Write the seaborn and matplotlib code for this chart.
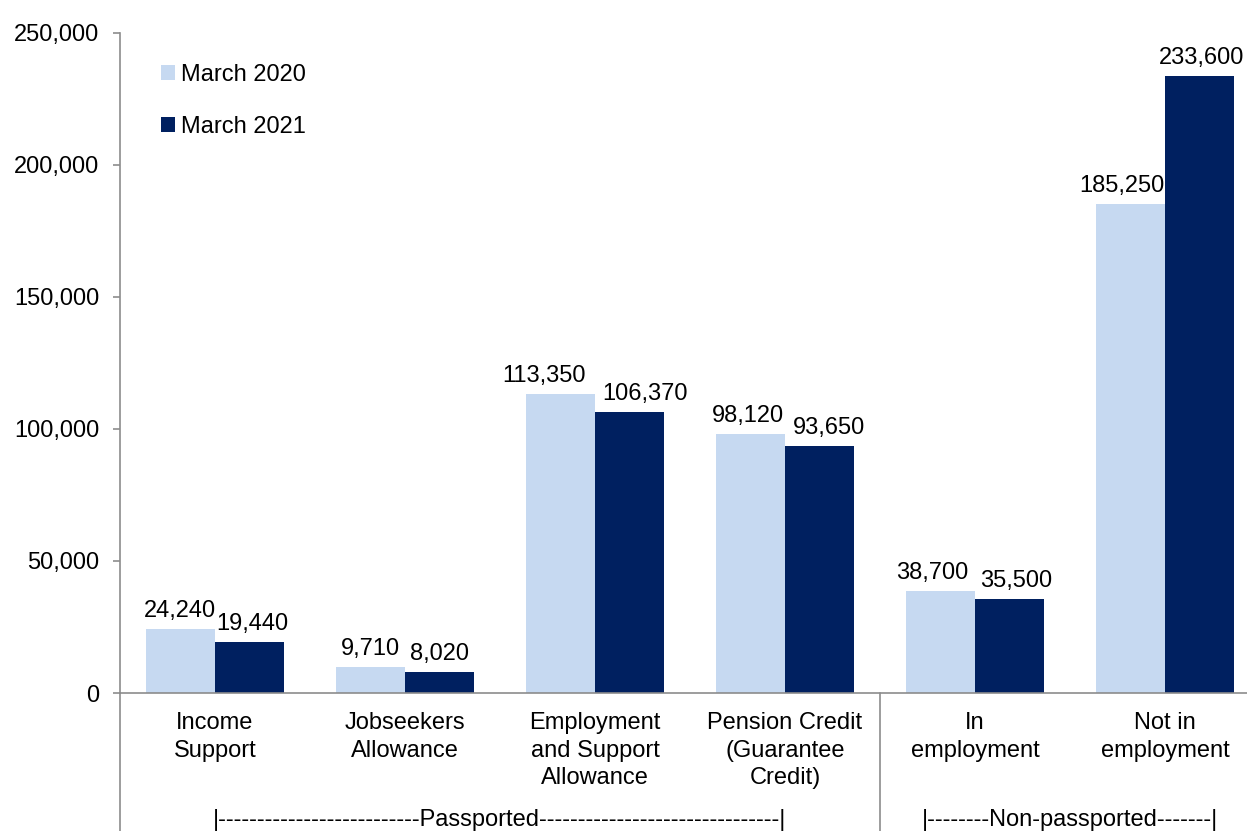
import matplotlib
matplotlib.use("Agg")
import matplotlib.pyplot as plt
import matplotlib.transforms as mtransforms
from matplotlib.patches import Patch
import pandas as pd
import seaborn as sns

categories = [
    "Income\nSupport",
    "Jobseekers\nAllowance",
    "Employment\nand Support\nAllowance",
    "Pension Credit\n(Guarantee\nCredit)",
    "In\nemployment",
    "Not in\nemployment",
]
series_names = ["March 2020", "March 2021"]
march_2020 = [24240, 9710, 113350, 98120, 38700, 185250]
march_2021 = [19440, 8020, 106370, 93650, 35500, 233600]
y_ticks = [0, 50000, 100000, 150000, 200000, 250000]
group_labels = [
    "|" + "-" * 26 + "Passported" + "-" * 31 + "|",
    "|" + "-" * 8 + "Non-passported" + "-" * 7 + "|",
]

colors = ["#C6D9F1", "#002060"]
axis_grey = "#8C8C8C"
fs = 17
# horizontal nudges (points) that keep neighbouring value labels apart
label_nudges = [
    [0, 0, -12, -2, -6, -6],
    [2, 0, 11, 7, 5, 1],
]

sns.set_theme(style="white")
plt.rcParams["font.family"] = ["Liberation Sans", "DejaVu Sans"]
plt.rcParams["text.color"] = "black"

df = pd.DataFrame({
    "category": categories * 2,
    "series": [series_names[0]] * len(categories) + [series_names[1]] * len(categories),
    "value": march_2020 + march_2021,
})

fig = plt.figure(figsize=(12.47, 8.31), dpi=100)
W, H = 1247, 831
ax = fig.add_axes([120 / W, (H - 693) / H, 1140 / W, 660 / H])

sns.barplot(data=df, x="category", y="value", hue="series", order=categories,
            hue_order=series_names, palette=colors, width=0.73, gap=0,
            saturation=1, ax=ax, legend=False, errorbar=None, linewidth=0)

ax.set_xlim(-0.5, 5.5)
ax.set_ylim(0, 250000)
ax.set_yticks(y_ticks)
ax.set_yticklabels([f"{v:,}" for v in y_ticks])
ax.set_xlabel("")
ax.set_ylabel("")

for side in ["top", "right"]:
    ax.spines[side].set_visible(False)
for side in ["left", "bottom"]:
    ax.spines[side].set_color(axis_grey)
    ax.spines[side].set_linewidth(1.2)

ax.tick_params(axis="y", which="major", left=True, length=5, width=1.2,
               color=axis_grey, pad=10, labelsize=fs, labelcolor="black")
ax.tick_params(axis="x", length=0, pad=14, labelsize=fs, labelcolor="black")
for lbl in ax.get_xticklabels():
    lbl.set_linespacing(1.3)

# Value labels above each bar
for container, nudges in zip(ax.containers, label_nudges):
    anns = ax.bar_label(container, labels=[f"{v:,.0f}" for v in container.datavalues],
                        padding=5, fontsize=fs, color="black")
    for ann, dx in zip(anns, nudges):
        ann.xyann = (dx, ann.xyann[1])

# Extended axis lines below the category labels
blend = mtransforms.blended_transform_factory(ax.transData, ax.transAxes)
ax.plot([0, 0], [0, -0.22], transform=ax.transAxes, color=axis_grey,
        lw=1.2, clip_on=False)
ax.plot([3.5, 3.5], [0, -0.22], transform=blend, color=axis_grey,
        lw=1.2, clip_on=False)

# Group labels
ax.text(1.5, -0.192, group_labels[0], transform=blend, ha="center",
        va="center", fontsize=fs, color="black")
ax.text(4.5, -0.192, group_labels[1], transform=blend, ha="center",
        va="center", fontsize=fs, color="black")

handles = [Patch(facecolor=c, edgecolor="none") for c in colors]
leg = ax.legend(handles, series_names, loc="upper left", bbox_to_anchor=(0.017, 0.985),
                frameon=False, fontsize=fs, handlelength=0.6, handleheight=0.6,
                handletextpad=0.25, labelspacing=1.25)
for t in leg.get_texts():
    t.set_color("black")

fig.savefig("out.png", dpi=100)
